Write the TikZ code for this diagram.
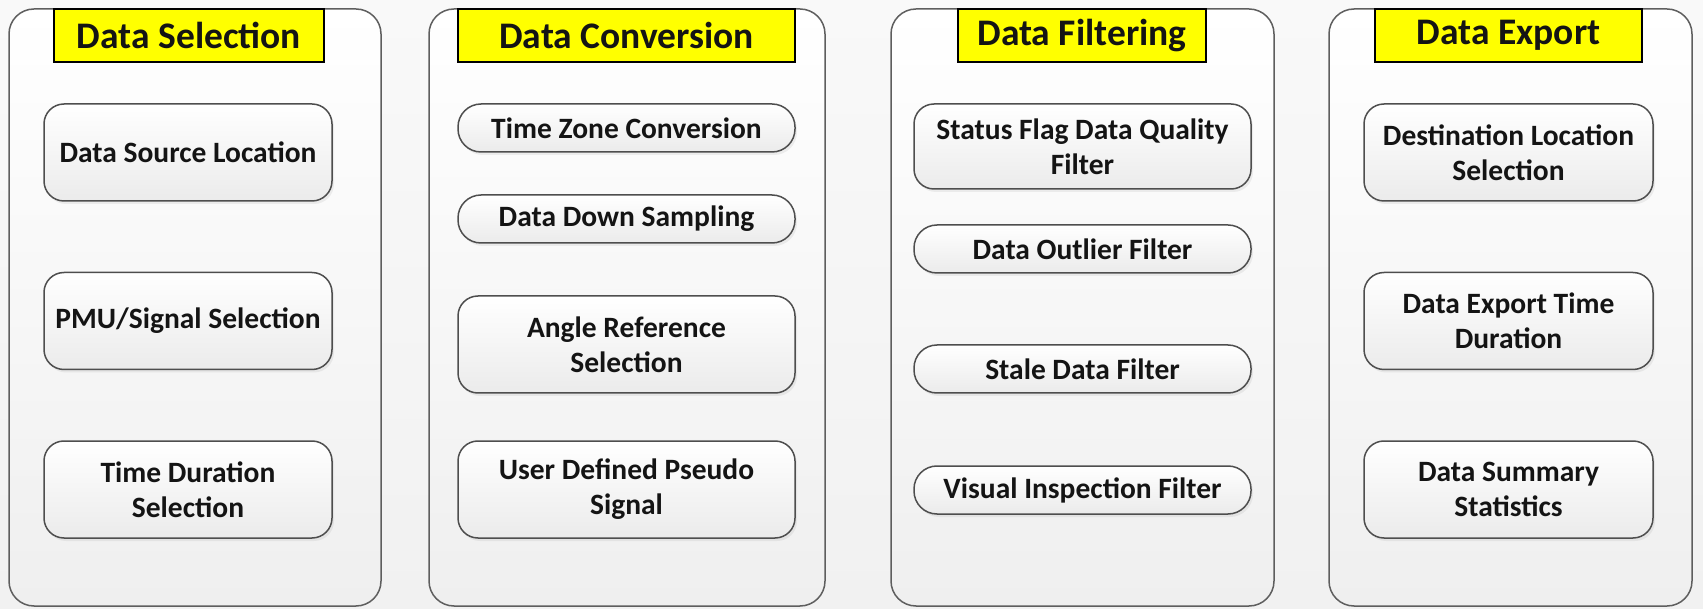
\documentclass[tikz,border=0pt]{standalone}
\usepackage{fontspec}
\setmainfont{Carlito}
\usetikzlibrary{shadows}
\definecolor{edgegray}{HTML}{5E5E5E}
\definecolor{boxedge}{HTML}{4E4E4E}
\definecolor{panelbot}{HTML}{EFEFEF}
\definecolor{boxbot}{HTML}{EBEBEB}
\definecolor{pagetop}{HTML}{F9F9F9}
\definecolor{pagebot}{HTML}{F1F1F1}
\definecolor{titlefill}{HTML}{FFFF00}
\begin{document}
\begin{tikzpicture}[x=1pt,y=-1pt,
  panel/.style={draw=edgegray, line width=1.5pt, rounded corners=25pt,
    top color=white, bottom color=panelbot, inner sep=0pt},
  titlebox/.style={draw=black, line width=1.4pt, fill=titlefill, inner sep=0pt,
    minimum height=53pt, font=\fontsize{37.5}{42}\selectfont\bfseries, text=black!92},
  stepbox/.style={draw=boxedge, line width=1.5pt, rounded corners=20pt,
    top color=white, bottom color=boxbot, inner sep=0pt, align=center,
    drop shadow={opacity=0.12, shadow xshift=2pt, shadow yshift=-3pt},
    font=\fontsize{29.5}{35}\selectfont\bfseries, text=black!92},
  tall/.style={stepbox, minimum height=97pt},
  mid/.style={stepbox, minimum height=85pt},
  pill/.style={stepbox, rounded corners=23pt, minimum height=48pt},
]
% page background
\shade[top color=pagetop, bottom color=pagebot] (0,0) rectangle (1703,609);
\useasboundingbox (0,0) rectangle (1703,609);

% stage panels
\node[panel, minimum width=372pt, minimum height=597pt] (p1) at (195,307.5) {};
\node[panel, minimum width=396pt, minimum height=597pt] (p2) at (627,307.5) {};
\node[panel, minimum width=383pt, minimum height=597pt] (p3) at (1082.5,307.5) {};
\node[panel, minimum width=363pt, minimum height=597pt] (p4) at (1510.5,307.5) {};

% stage titles
\node[titlebox, minimum width=270pt] (t1) at (189,35.5) {Data Selection};
\node[titlebox, minimum width=337pt] (t2) at (626.5,35.5) {Data Conversion};
\node[titlebox, minimum width=248pt] (t3) at (1082,35.5) {Data Filtering};
\node[titlebox, minimum width=267pt] (t4) at (1508.5,35.5) {Data Export};

% data selection steps
\node[tall, minimum width=288pt] (s1) at (188,152.5) {Data Source Location};
\node[tall, minimum width=288pt] (s2) at (188,321) {PMU/Signal Selection};
\node[tall, minimum width=288pt] (s3) at (188,489.5) {Time Duration\\Selection};

% data conversion steps
\node[pill, minimum width=337pt] (c1) at (626.5,128) {Time Zone Conversion};
\node[pill, minimum width=337pt] (c2) at (626.5,219) {Data Down Sampling};
\node[tall, minimum width=337pt] (c3) at (626.5,344.5) {Angle Reference\\Selection};
\node[tall, minimum width=337pt] (c4) at (626.5,489.5) {User Defined Pseudo\\Signal};

% data filtering steps
\node[mid, minimum width=337pt] (f1) at (1082.5,146.5) {Status Flag Data Quality\\Filter};
\node[pill, minimum width=337pt] (f2) at (1082.5,249) {Data Outlier Filter};
\node[pill, minimum width=337pt] (f3) at (1082.5,369) {Stale Data Filter};
\node[pill, minimum width=337pt] (f4) at (1082.5,490) {Visual Inspection Filter};

% data export steps
\node[tall, minimum width=289pt] (e1) at (1508.5,152.5) {Destination Location\\Selection};
\node[tall, minimum width=289pt] (e2) at (1508.5,321) {Data Export Time\\Duration};
\node[tall, minimum width=289pt] (e3) at (1508.5,489.5) {Data Summary\\Statistics};
\end{tikzpicture}
\end{document}
